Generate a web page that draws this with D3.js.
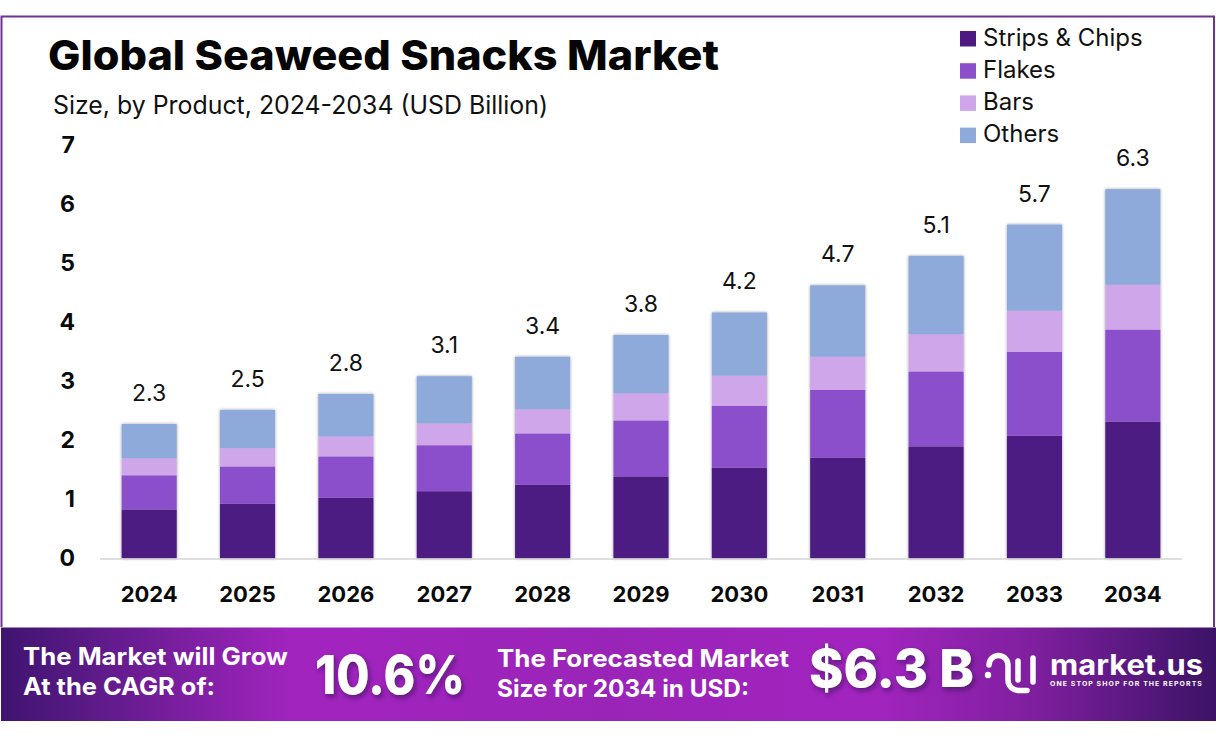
<!DOCTYPE html>
<html>
<head>
<meta charset="utf-8">
<script src="https://cdn.jsdelivr.net/npm/d3@7/dist/d3.min.js"></script>
<style>
  html, body { margin: 0; padding: 0; background: #fff; }
  svg { display: block; }
  text { font-family: Inter, Lato, sans-serif; }
</style>
</head>
<body>
<div id="chart"></div>
<script>
// data
const years = ['2024','2025','2026','2027','2028','2029','2030','2031','2032','2033','2034']
const products = ['Strips & Chips','Flakes','Bars','Others']
const strips = [0.83,0.93,1.03,1.14,1.25,1.39,1.54,1.71,1.90,2.08,2.32]
const flakes = [0.58,0.63,0.70,0.78,0.87,0.95,1.05,1.15,1.27,1.42,1.56]
const bars = [0.29,0.31,0.34,0.37,0.41,0.46,0.51,0.56,0.63,0.70,0.76]
const others = [0.58,0.65,0.72,0.80,0.89,0.99,1.07,1.21,1.33,1.46,1.62]
const totals = ['2.3','2.5','2.8','3.1','3.4','3.8','4.2','4.7','5.1','5.7','6.3']
const colors = ['#4e1a82','#8b4fcb','#d0a6ea','#8eaadb']
const yTicks = [0,1,2,3,4,5,6,7]

//consts
const
  width = 1216,
  height = 740,
  x0 = 100,
  x1 = 1182,
  yBase = 558.5,
  yTop = 145.5

const svg = d3.select('#chart').append('svg')
  .attr('width', width)
  .attr('height', height)
  .attr('viewBox', [0, 0, width, height])

const defs = svg.append('defs')

const grad = defs.append('linearGradient').attr('id', 'band')
grad.selectAll('stop')
  .data([[0,'#3f1470'],[0.07,'#5a1a86'],[0.24,'#a224bf'],[0.5,'#9a24b8'],[0.72,'#a224bf'],[0.85,'#7f1f9f'],[1,'#3b1366']])
  .join('stop')
  .attr('offset', d => d[0])
  .attr('stop-color', d => d[1])

const barShadow = defs.append('filter').attr('id', 'barShadow')
  .attr('x', '-10%').attr('y', '-5%').attr('width', '120%').attr('height', '110%')
barShadow.append('feDropShadow')
  .attr('dx', 0).attr('dy', 0).attr('stdDeviation', 1.6)
  .attr('flood-color', '#000').attr('flood-opacity', 0.4)

const textShadow = defs.append('filter').attr('id', 'textShadow')
  .attr('x', '-10%').attr('y', '-10%').attr('width', '120%').attr('height', '130%')
textShadow.append('feDropShadow')
  .attr('dx', 2).attr('dy', 3).attr('stdDeviation', 2.5)
  .attr('flood-color', '#2a0a50').attr('flood-opacity', 0.6)

//frame
svg.append('path')
  .attr('d', `M1.5,627V16.5H1214V627`)
  .attr('fill', 'none')
  .attr('stroke', '#6f3192')
  .attr('stroke-width', 2)

//scales
const x = d3.scaleBand().domain(years).range([x0, x1]).paddingInner(0.44).paddingOuter(0.22)
const y = d3.scaleLinear().domain([0, 7]).range([yBase, yTop])

//stack
const table = years.map((year, i) => ({
  year,
  [products[0]]: strips[i],
  [products[1]]: flakes[i],
  [products[2]]: bars[i],
  [products[3]]: others[i]
}))
const series = d3.stack().keys(products)(table)

//bars
const group = svg.append('g').attr('filter', 'url(#barShadow)')
group.selectAll('g')
  .data(series)
  .join('g')
  .attr('fill', (d, i) => colors[i])
  .selectAll('rect')
  .data(d => d)
  .join('rect')
  .attr('x', d => x(d.data.year))
  .attr('y', d => y(d[1]))
  .attr('width', x.bandwidth())
  .attr('height', d => y(d[0]) - y(d[1]))

//axis line
svg.append('line')
  .attr('x1', x0).attr('x2', x1)
  .attr('y1', yBase + 0.5).attr('y2', yBase + 0.5)
  .attr('stroke', '#d4d4d4')
  .attr('stroke-width', 1.5)

//x labels
const xAxis = svg.append('g')
  .attr('transform', `translate(0,${yBase})`)
  .call(d3.axisBottom(x).tickSize(0).tickPadding(28))
xAxis.select('.domain').remove()
xAxis.selectAll('text')
  .attr('fill', '#0a0a0a')
  .style('font-family', 'Inter, sans-serif')
  .style('font-size', '22px')
  .style('font-weight', 700)

//y labels
const yAxis = svg.append('g')
  .attr('transform', 'translate(75,0)')
  .call(d3.axisLeft(y).tickValues(yTicks).tickFormat(d3.format('d')).tickSize(0).tickPadding(0))
yAxis.select('.domain').remove()
yAxis.selectAll('text')
  .attr('fill', '#0a0a0a')
  .style('font-family', 'Inter, sans-serif')
  .style('font-size', '23px')
  .style('font-weight', 700)

//totals
svg.append('g').selectAll('text')
  .data(table)
  .join('text')
  .attr('x', d => x(d.year) + x.bandwidth() / 2)
  .attr('y', d => y(d3.sum(products, k => d[k])) - 23)
  .attr('text-anchor', 'middle')
  .attr('font-size', 23)
  .attr('fill', '#111')
  .text((d, i) => totals[i])

//titles
svg.append('text')
  .attr('x', 48).attr('y', 70)
  .attr('font-size', 41)
  .attr('font-weight', 800)
  .attr('fill', '#050505')
  .attr('textLength', 671)
  .attr('lengthAdjust', 'spacingAndGlyphs')
  .text('Global Seaweed Snacks Market')
svg.append('text')
  .attr('x', 53).attr('y', 114)
  .attr('font-size', 25)
  .attr('fill', '#111')
  .attr('textLength', 495)
  .attr('lengthAdjust', 'spacingAndGlyphs')
  .text('Size, by Product, 2024-2034 (USD Billion)')

//legend
const legend = svg.append('g').selectAll('g')
  .data(products)
  .join('g')
  .attr('transform', (d, i) => `translate(960,${31 + i * 32.2})`)
legend.append('rect')
  .attr('width', 16).attr('height', 15.5)
  .attr('fill', (d, i) => colors[i])
legend.append('text')
  .attr('x', 23).attr('y', 14.5)
  .attr('font-size', 24)
  .attr('fill', '#111')
  .text(d => d)

//banner
const banner = svg.append('g')
banner.append('rect')
  .attr('x', 1).attr('y', 627.5)
  .attr('width', 1215).attr('height', 93.5)
  .attr('fill', 'url(#band)')

const bannerText = (txt, xPos, yPos, size, len) => banner.append('text')
  .attr('x', xPos).attr('y', yPos)
  .attr('font-size', size)
  .attr('font-weight', 700)
  .attr('fill', '#fff')
  .attr('textLength', len)
  .attr('lengthAdjust', 'spacingAndGlyphs')
  .text(txt)

bannerText('The Market will Grow', 23, 665, 24, 265)
bannerText('At the CAGR of:', 23, 695, 24, 192)
bannerText('The Forecasted Market', 497, 667, 24, 292)
bannerText('Size for 2034 in USD:', 497, 697, 24, 252)
bannerText('10.6%', 315, 694, 54, 150).attr('font-weight', 800).attr('filter', 'url(#textShadow)')
bannerText('$6.3 B', 809, 687, 52, 165).attr('font-weight', 800).attr('filter', 'url(#textShadow)')

//logo
const logo = banner.append('g')
  .attr('fill', 'none')
  .attr('stroke', '#fff')
  .attr('stroke-width', 5.5)
  .attr('stroke-linecap', 'round')
logo.append('path').attr('d', 'M989,665a9.5,9.5,0 0 1 19,0V680a10.5,10.5,0 0 0 10.5,10.5H1027')
logo.append('path').attr('d', 'M1018,661V680')
logo.append('path').attr('d', 'M1033,658V682')
banner.append('circle').attr('cx', 988).attr('cy', 675).attr('r', 3.2).attr('fill', '#fff')
bannerText('market.us', 1050, 675, 28, 153)
bannerText('ONE STOP SHOP FOR THE REPORTS', 1050, 686, 6.5, 153).attr('letter-spacing', 1)
</script>
</body>
</html>
